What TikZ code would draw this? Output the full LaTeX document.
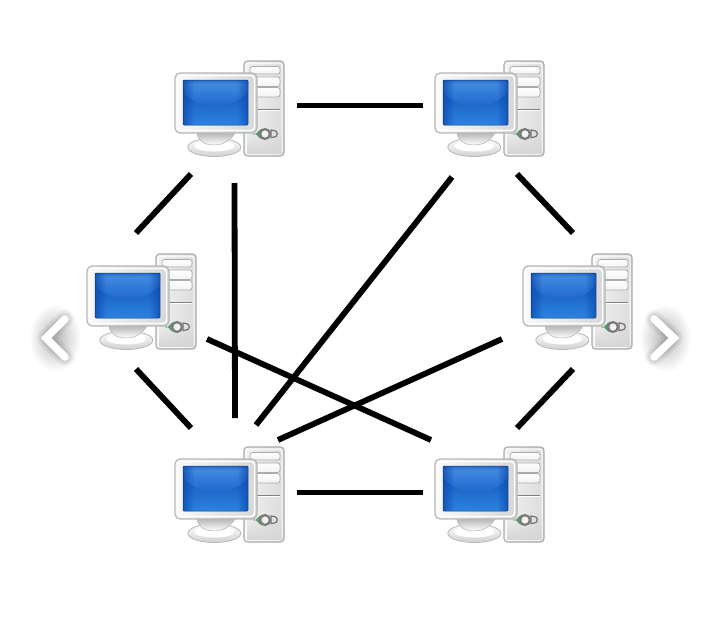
\documentclass[tikz,border=0pt]{standalone}
\usetikzlibrary{calc,fadings}
\definecolor{edgegray}{HTML}{A8ACAC}
\definecolor{monedge}{HTML}{B4B8B8}
\definecolor{scrdark}{HTML}{0E4DB0}
\definecolor{scrlight}{HTML}{6FB4F0}
\definecolor{scrmid}{HTML}{1F68D0}
\definecolor{scrlow}{HTML}{2C82E2}
\definecolor{greenbtn}{HTML}{5E9A6E}
\tikzset{
  x=1pt,y=-1pt,
  link/.style={line width=5.8pt,black,line cap=butt},
  hub/.style={coordinate},
  bay/.style={draw=edgegray,line width=.7pt,rounded corners=2.5pt,top color=white,bottom color=black!5},
  computer/.pic={
    % tower
    \draw[edgegray,line width=1.1pt,rounded corners=3.5pt,left color=black!5,right color=black!14] (69,1) rectangle (109,96);
    \draw[white,line width=1pt,rounded corners=2.5pt] (71,3) rectangle (107,94);
    \fill[black!16,path fading=north] (72,70) rectangle (106.5,93.5);
    \path[bay] (75,6.5) rectangle (105,14);
    \path[bay] (75,17) rectangle (105,26.5);
    \path[bay] (75,27.5) rectangle (105,37);
    \draw[black!50,line width=1pt] (75,49.3) -- (105,49.3);
    \draw[white,line width=.8pt] (75,50.6) -- (105,50.6);
    \fill[greenbtn] (77.5,74) to[out=-50,in=180] (88,68.5) -- (88,79.5) to[out=180,in=50] cycle;
    \draw[black!55,line width=1.2pt,fill=black!12] (96,70) -- (99,70.5) arc[start angle=-90,end angle=90,radius=3.3] -- (96,77.5) -- cycle;
    \draw[black!52,line width=2.2pt,fill=black!5] (90,74) circle[radius=4.9];
    % stand
    \draw[monedge,line width=.8pt,top color=white,bottom color=black!18] (39.3,87.3) ellipse[x radius=26.5,y radius=9.2];
    \fill[white] (39.3,86) ellipse[x radius=20,y radius=5.5];
    \draw[black!30,line width=.5pt,top color=black!28,bottom color=white] (22,73) .. controls (23,81) and (30,85) .. (39,85) .. controls (48,85) and (55,81) .. (60,73) -- cycle;
    % monitor
    \draw[monedge,line width=1.2pt,rounded corners=5pt,left color=black!2,right color=black!16] (0,13) rectangle (82,73);
    \draw[white,line width=1.4pt,rounded corners=3.5pt] (2.5,15.5) rectangle (79.5,70.5);
    % screen
    \begin{scope}
      \clip[rounded corners=1pt] (8,20) rectangle (73,65);
      \path[top color=scrdark,bottom color=scrlow] (8,20) rectangle (73,65);
      \path[top color=scrlight,bottom color=scrmid] (40.5,20) ellipse[x radius=36,y radius=26];
      \fill[scrdark,opacity=.8,path fading=east] (8,20) rectangle (19,65);
      \fill[scrdark,opacity=.8,path fading=west] (62,20) rectangle (73,65);
      \fill[scrdark,opacity=.5,path fading=south] (8,20) rectangle (73,24);
    \end{scope}
    \draw[scrdark!70!black,line width=.5pt,rounded corners=1pt] (8,20) rectangle (73,65);
  },
  glow/.style={line cap=round,line join=round,black,opacity=.03},
  chevron/.style={white,line width=7.5pt,line cap=round,line join=miter}
}
\begin{document}
\begin{tikzpicture}
\useasboundingbox (0,0) rectangle (720,624);
\fill[white] (0,0) rectangle (720,624);
% computers
\node[hub] (tl) at (175,60) {};
\node[hub] (tr) at (435,60) {};
\node[hub] (ml) at (87,253) {};
\node[hub] (mr) at (523,253) {};
\node[hub] (bl) at (175,446) {};
\node[hub] (br) at (435,446) {};
\foreach \h in {tl,tr,ml,mr,bl,br} \pic at (\h) {computer};
% connector ends
\coordinate (a1) at (297,105.5); \coordinate (a2) at (423,105.5);
\coordinate (b1) at (297,492.5); \coordinate (b2) at (423,492.5);
\coordinate (c1) at (191,174); \coordinate (c2) at (136,233);
\coordinate (d1) at (517,174); \coordinate (d2) at (573,233);
\coordinate (e1) at (136,369); \coordinate (e2) at (191,428);
\coordinate (f1) at (573,369); \coordinate (f2) at (517,428);
\coordinate (g1) at (234.5,183); \coordinate (g2) at (235,418);
\coordinate (h1) at (452,177); \coordinate (h2) at (256,425);
\coordinate (i1) at (207,339); \coordinate (i2) at (431,440);
\coordinate (j1) at (502,339); \coordinate (j2) at (278,440);
\foreach \p in {a,b,c,d,e,f,g,h,i,j} \draw[link] (\p1) -- (\p2);
% chevrons
\coordinate (lc1) at (65,319); \coordinate (lc2) at (46,338); \coordinate (lc3) at (65,357);
\coordinate (rc1) at (654,319); \coordinate (rc2) at (674,338); \coordinate (rc3) at (654,357);
\shade[inner color=black!28,outer color=white] (55,338) ellipse[x radius=26,y radius=34];
\shade[inner color=black!28,outer color=white] (665,338) ellipse[x radius=26,y radius=34];
\foreach \w in {18,15,12,10}{
  \draw[glow,line width=\w pt] (lc1) -- (lc2) -- (lc3);
  \draw[glow,line width=\w pt] (rc1) -- (rc2) -- (rc3);
}
\draw[chevron] (lc1) -- (lc2) -- (lc3);
\draw[chevron] (rc1) -- (rc2) -- (rc3);
\end{tikzpicture}
\end{document}
